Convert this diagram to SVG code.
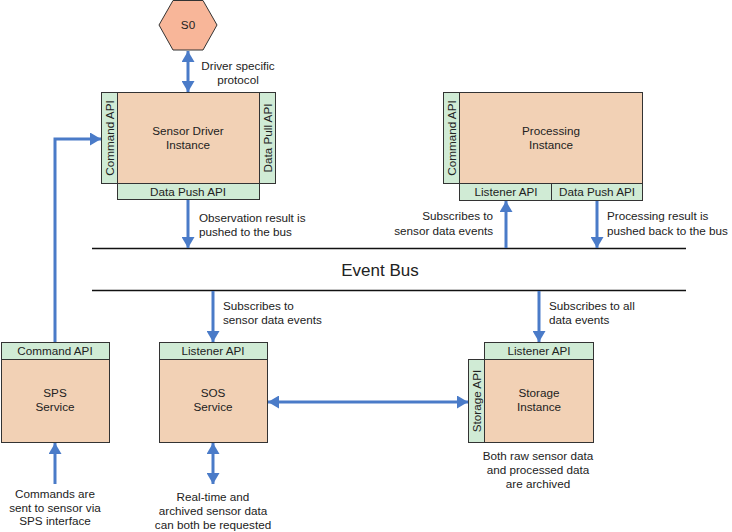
<svg xmlns="http://www.w3.org/2000/svg" width="732" height="532" viewBox="0 0 732 532">
<defs>
<style>
text{font-family:"Liberation Sans",Arial,sans-serif;font-size:11.7px;fill:#222}
.c{text-anchor:middle}
.e{text-anchor:end}
.main{fill:#F2D1B5;stroke:#333;stroke-width:1}
.api{fill:#D0EBD5;stroke:#333;stroke-width:1}
.hex{fill:#F8B699;stroke:#333;stroke-width:1}
.bus{stroke:#111;stroke-width:1.6}
.arr{fill:none;stroke:#4A7BC8;stroke-width:3}
</style>
<marker id="ah" markerUnits="userSpaceOnUse" markerWidth="11" markerHeight="13" refX="11" refY="6.5" orient="auto-start-reverse" viewBox="0 0 11 13">
<path d="M0,0 L11,6.5 L0,13 z" fill="#4A7BC8"/>
</marker>
</defs>
<rect width="732" height="532" fill="#fff"/>

<g id="event-bus">
<line class="bus" x1="92" y1="248.5" x2="686" y2="248.5"/>
<line class="bus" x1="92" y1="290.5" x2="686" y2="290.5"/>
<text class="c" x="380" y="276" style="font-size:17px">Event Bus</text>
</g>

<g id="s0">
<polygon class="hex" points="159,25 173,0.5 203,0.5 217,25 203,50 173,50"/>
<text class="c" x="188" y="29">S0</text>
</g>

<g id="sensor-driver">
<rect class="main" x="117.5" y="92.5" width="142" height="91"/>
<rect class="api" x="101.5" y="92.5" width="16" height="91"/>
<rect class="api" x="259.5" y="92.5" width="16" height="91"/>
<rect class="api" x="117.5" y="183.5" width="142" height="16"/>
<text class="c" x="188" y="135">Sensor Driver</text>
<text class="c" x="188" y="149">Instance</text>
<text class="c" transform="translate(113.5,138) rotate(-90)">Command API</text>
<text class="c" transform="translate(271.5,138) rotate(-90)">Data Pull API</text>
<text class="c" x="188" y="196">Data Push API</text>
</g>

<g id="processing">
<rect class="main" x="459.5" y="92.5" width="183" height="91"/>
<rect class="api" x="443.5" y="92.5" width="16" height="91"/>
<rect class="api" x="459.5" y="183.5" width="92" height="17"/>
<rect class="api" x="551.5" y="183.5" width="91" height="17"/>
<text class="c" x="551" y="135">Processing</text>
<text class="c" x="551" y="149">Instance</text>
<text class="c" transform="translate(455.5,138) rotate(-90)">Command API</text>
<text class="c" x="506" y="196">Listener API</text>
<text class="c" x="597" y="196">Data Push API</text>
</g>

<g id="sps">
<rect class="main" x="1.5" y="359.5" width="108" height="83"/>
<rect class="api" x="1.5" y="342.5" width="108" height="17"/>
<text class="c" x="55" y="355">Command API</text>
<text class="c" x="55" y="397">SPS</text>
<text class="c" x="55" y="411">Service</text>
</g>

<g id="sos">
<rect class="main" x="159.5" y="359.5" width="108" height="83"/>
<rect class="api" x="159.5" y="342.5" width="108" height="17"/>
<text class="c" x="213" y="355">Listener API</text>
<text class="c" x="213" y="397">SOS</text>
<text class="c" x="213" y="411">Service</text>
</g>

<g id="storage">
<rect class="main" x="484.5" y="359.5" width="109" height="83"/>
<rect class="api" x="484.5" y="342.5" width="109" height="17"/>
<rect class="api" x="468.5" y="359.5" width="16" height="83"/>
<text class="c" x="539" y="355">Listener API</text>
<text class="c" x="539" y="397">Storage</text>
<text class="c" x="539" y="411">Instance</text>
<text class="c" transform="translate(480.5,401) rotate(-90)">Storage API</text>
</g>

<g id="connectors">
<line class="arr" x1="188" y1="51" x2="188" y2="92" marker-start="url(#ah)" marker-end="url(#ah)"/>
<line class="arr" x1="188" y1="200" x2="188" y2="248" marker-end="url(#ah)"/>
<line class="arr" x1="506" y1="248" x2="506" y2="201" marker-end="url(#ah)"/>
<line class="arr" x1="597" y1="201" x2="597" y2="248" marker-end="url(#ah)"/>
<line class="arr" x1="213" y1="291" x2="213" y2="342" marker-end="url(#ah)"/>
<line class="arr" x1="539" y1="291" x2="539" y2="342" marker-end="url(#ah)"/>
<path class="arr" d="M55,342 V139 H101" marker-end="url(#ah)"/>
<line class="arr" x1="55" y1="484" x2="55" y2="443" marker-end="url(#ah)"/>
<line class="arr" x1="268" y1="402" x2="468" y2="402" marker-start="url(#ah)" marker-end="url(#ah)"/>
<line class="arr" x1="213" y1="443" x2="213" y2="484" marker-start="url(#ah)" marker-end="url(#ah)"/>
</g>

<g id="labels">
<text class="c" x="238" y="70">Driver specific</text>
<text class="c" x="238" y="84">protocol</text>
<text x="199" y="222">Observation result is</text>
<text x="199" y="236">pushed to the bus</text>
<text class="e" x="493" y="220">Subscribes to</text>
<text class="e" x="493" y="235">sensor data events</text>
<text x="607" y="220">Processing result is</text>
<text x="607" y="235">pushed back to the bus</text>
<text x="223" y="310">Subscribes to</text>
<text x="223" y="324">sensor data events</text>
<text x="549" y="310">Subscribes to all</text>
<text x="549" y="324">data events</text>
<text class="c" x="538" y="460">Both raw sensor data</text>
<text class="c" x="538" y="474">and processed data</text>
<text class="c" x="538" y="488">are archived</text>
<text class="c" x="55" y="498">Commands are</text>
<text class="c" x="55" y="512">sent to sensor via</text>
<text class="c" x="55" y="525">SPS interface</text>
<text class="c" x="213" y="501">Real-time and</text>
<text class="c" x="213" y="515">archived sensor data</text>
<text class="c" x="213" y="529">can both be requested</text>
</g>
</svg>
